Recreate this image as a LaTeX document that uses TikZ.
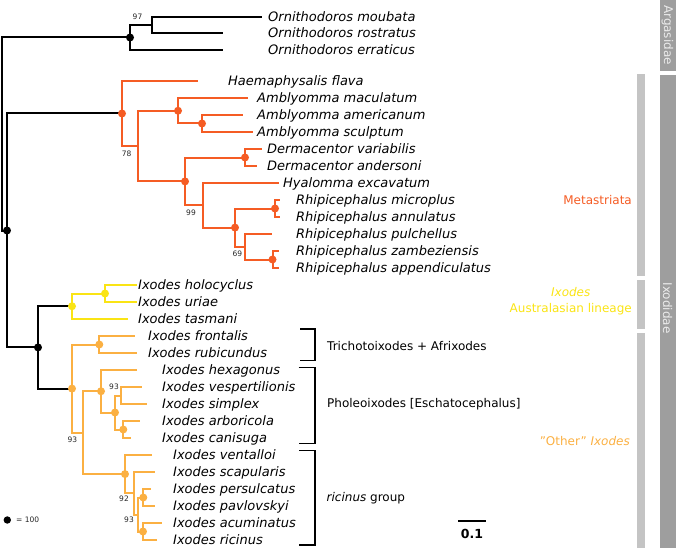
\documentclass[tikz,border=0pt]{standalone}
\usepackage{fontspec}
\setmainfont{DejaVu Sans}
\definecolor{meta}{RGB}{245,92,36}
\definecolor{aust}{RGB}{250,228,20}
\definecolor{othr}{RGB}{251,176,66}
\definecolor{barlight}{RGB}{196,196,196}
\definecolor{bardark}{RGB}{158,158,158}

\begin{document}
\begin{tikzpicture}[x=1pt,y=-1pt,
	every node/.style={inner sep=0pt},
	taxon/.style={anchor=west,font=\fontsize{13}{15}\selectfont\itshape,text height=9.5pt,text depth=0pt},
	clade/.style={font=\fontsize{12}{16}\selectfont},
	supp/.style={font=\fontsize{7.5}{9}\selectfont,text=black!85},
	branch/.style={line width=2pt},
	brk/.style={line width=1.5pt}]
	\useasboundingbox (0,0) rectangle (676,548);

	% side bars
	\fill[bardark] (660,0) rectangle (676,71.5);
	\fill[bardark] (660,75) rectangle (676,548);
	\fill[barlight] (637,74) rectangle (645,276);
	\fill[barlight] (637,280) rectangle (645,329);
	\fill[barlight] (637,332.5) rectangle (645,548);
	\node[clade,rotate=-90,text=black!8] (argas) at (667.5,35) {Argasidae};
	\node[clade,rotate=-90,text=black!8] (ixodi) at (667.5,308) {Ixodidae};

	% internal nodes
	\coordinate (r0)   at (2,134);
	\coordinate (arg)  at (130,37.5);
	\coordinate (n97)  at (152,25);
	\coordinate (ixo)  at (7,230.5);
	\coordinate (meta) at (122,113.5);
	\coordinate (n78)  at (138,146.1);
	\coordinate (amb)  at (178,110.75);
	\coordinate (amb2) at (202,123.5);
	\coordinate (hya)  at (185,181.4);
	\coordinate (der)  at (245,157.5);
	\coordinate (n99)  at (202.7,205.3);
	\coordinate (rhi)  at (235,227.6);
	\coordinate (rmi)  at (275,208.5);
	\coordinate (n69)  at (245,246.75);
	\coordinate (rza)  at (272.5,259.5);
	\coordinate (ixd)  at (38,347.4);
	\coordinate (aus)  at (72,306.25);
	\coordinate (hu)   at (105,293.5);
	\coordinate (oth)  at (72,388.6);
	\coordinate (fr)   at (99.3,344.5);
	\coordinate (n93a) at (83.3,432.7);
	\coordinate (ph)   at (101,391.25);
	\coordinate (ph2)  at (115,412.5);
	\coordinate (n93v) at (120.7,395.5);
	\coordinate (ac)   at (123.3,429.5);
	\coordinate (ric)  at (125,474.1);
	\coordinate (n92)  at (134,493.25);
	\coordinate (n93r) at (138.3,514.5);
	\coordinate (pp)   at (143.3,497.5);
	\coordinate (ar)   at (143,531.5);

	% leaves: name / tip x / text x / y / label
	\foreach \n/\tx/\lx/\y/\name in {
		mou/262/268/17/Ornithodoros moubata,
		ros/223/268/33/Ornithodoros rostratus,
		err/223/268/50/Ornithodoros erraticus,
		fla/198/228/81/Haemaphysalis flava,
		mac/248/257/98/Amblyomma maculatum,
		ame/243/257/115/Amblyomma americanum,
		scu/253/257/132/Amblyomma sculptum,
		var/261.7/267/149/Dermacentor variabilis,
		and/257.3/267/166/Dermacentor andersoni,
		exc/279.3/283/183/Hyalomma excavatum,
		mic/280/296/200/Rhipicephalus microplus,
		ann/280/296/217/Rhipicephalus annulatus,
		pul/271.5/296/234/Rhipicephalus pulchellus,
		zam/278.5/296/251/Rhipicephalus zambeziensis,
		app/278.5/296/268/Rhipicephalus appendiculatus,
		hol/136.7/138/285/Ixodes holocyclus,
		uri/136.7/138/302/Ixodes uriae,
		tas/128.3/138/319/Ixodes tasmani,
		fro/135/148/336/Ixodes frontalis,
		rub/137/148/353/Ixodes rubicundus,
		hex/136.7/162/370/Ixodes hexagonus,
		ves/141.7/162/387/Ixodes vespertilionis,
		sim/147.3/162/404/Ixodes simplex,
		arb/140/162/421/Ixodes arboricola,
		can/130.7/162/438/Ixodes canisuga,
		ven/151.5/173/455/Ixodes ventalloi,
		sca/155/173/472/Ixodes scapularis,
		per/151/173/489/Ixodes persulcatus,
		pav/155/173/506/Ixodes pavlovskyi,
		acu/161.5/173/523/Ixodes acuminatus,
		rcn/156.5/173/540/Ixodes ricinus}
	{
		\coordinate (t\n) at (\tx,\y);
		\node[taxon] (\n) at (\lx,\y) {\name};
	}

	% branches
	\foreach \from/\to in {r0/arg,r0/ixo,arg/n97,arg/terr,n97/tmou,n97/tros,
		ixo/meta,ixo/ixd,ixd/aus,ixd/oth}
		\draw[branch] (\from) |- (\to);
	\foreach \from/\to in {meta/tfla,meta/n78,n78/amb,n78/hya,amb/tmac,amb/amb2,
		amb2/tame,amb2/tscu,hya/der,hya/n99,der/tvar,der/tand,n99/texc,n99/rhi,
		rhi/rmi,rhi/n69,rmi/tmic,rmi/tann,n69/tpul,n69/rza,rza/tzam,rza/tapp}
		\draw[branch,meta] (\from) |- (\to);
	\foreach \from/\to in {aus/hu,aus/ttas,hu/thol,hu/turi}
		\draw[branch,aust] (\from) |- (\to);
	\foreach \from/\to in {oth/fr,oth/n93a,fr/tfro,fr/trub,n93a/ph,n93a/ric,
		ph/thex,ph/ph2,ph2/n93v,ph2/ac,n93v/tves,n93v/tsim,ac/tarb,ac/tcan,
		ric/tven,ric/n92,n92/tsca,n92/n93r,n93r/pp,n93r/ar,pp/tper,pp/tpav,
		ar/tacu,ar/trcn}
		\draw[branch,othr] (\from) |- (\to);

	% node dots (support 100)
	\foreach \n in {arg,ixo,ixd}
		\fill (\n) circle (4pt);
	\foreach \n in {meta,amb,amb2,der,hya,rhi,rmi,rza}
		\fill[meta] (\n) circle (4pt);
	\foreach \n in {aus,hu}
		\fill[aust] (\n) circle (4pt);
	\foreach \n in {oth,fr,ph,ph2,ac,ric,pp,ar}
		\fill[othr] (\n) circle (4pt);

	% other support values
	\path (n97) ++(-14.5,-8.3) node[supp] (s97) {97};
	\path (n78) ++(-11.3,7.9) node[supp] (s78) {78};
	\path (n99) ++(-11.7,7.4) node[supp] (s99) {99};
	\path (n69) ++(-7.7,6.6) node[supp] (s69) {69};
	\path (n93v) ++(-6.7,-8.5) node[supp] (s93v) {93};
	\path (n93a) ++(-11,6.6) node[supp] (s93a) {93};
	\path (n92) ++(-10,6) node[supp] (s92) {92};
	\path (n93r) ++(-9.3,5.5) node[supp] (s93r) {93};

	% brackets
	\coordinate (b1a) at (300,329);   \coordinate (b1m) at (315,345);   \coordinate (b1b) at (300,360.7);
	\coordinate (b2a) at (298.5,367.7); \coordinate (b2m) at (315,405.5); \coordinate (b2b) at (299,443.3);
	\coordinate (b3a) at (299,450.7); \coordinate (b3m) at (315,498);   \coordinate (b3b) at (299,545);
	\foreach \b in {b1,b2,b3}
		\draw[brk] (\b a) -| (\b m) |- (\b b);
	\node[clade,anchor=west] (trich) at (327,346) {Trichotoixodes + Afrixodes};
	\node[clade,anchor=west] (phole) at (327,404.5) {Pholeoixodes [Eschatocephalus]};
	\node[clade,anchor=west] (ricg) at (326.5,498) {\textit{ricinus} group};

	% clade names
	\node[clade,anchor=east,text=meta] (metal) at (632,200) {Metastriata};
	\node[clade,anchor=east,text=aust,align=center] (ausl) at (632,301.5) {\textit{Ixodes}\\Australasian lineage};
	\node[clade,anchor=east,text=othr] (othl) at (630,440.7) {"Other" \textit{Ixodes}};

	% legend and scale
	\fill (7.3,520) circle (3.7pt);
	\node[supp,anchor=west] (leg) at (16,520) {= 100};
	\coordinate (sc1) at (458.3,520.7);
	\coordinate (sc2) at (486,520.7);
	\draw[line width=2.3pt] (sc1) -- (sc2);
	\node[font=\fontsize{12.5}{14}\selectfont\bfseries] (scl) at (472,534.3) {0.1};
\end{tikzpicture}
\end{document}
